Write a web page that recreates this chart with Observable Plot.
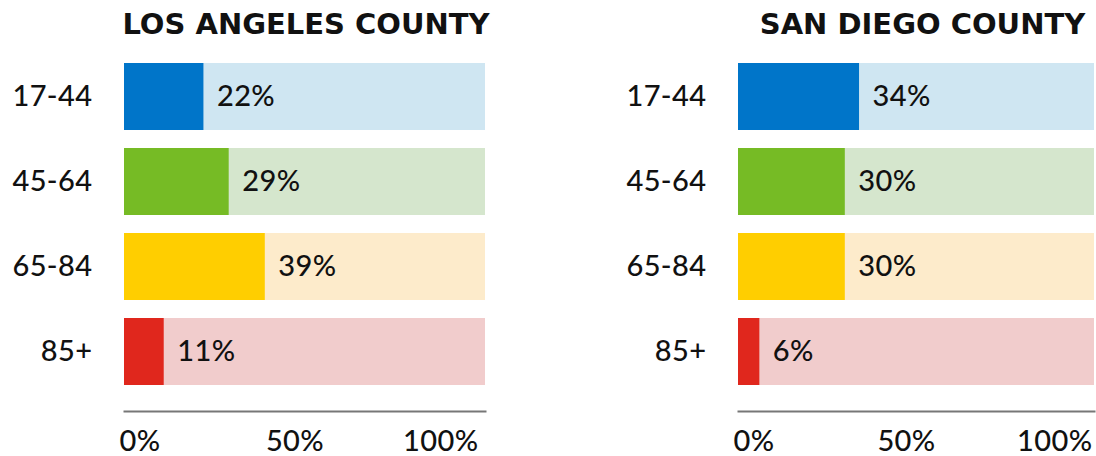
<!DOCTYPE html>
<html>
<head>
<meta charset="utf-8">
<script src="https://cdn.jsdelivr.net/npm/d3@7"></script>
<script src="https://cdn.jsdelivr.net/npm/@observablehq/plot@0.6"></script>
<style>
  html, body { margin: 0; padding: 0; background: #fff; }
  #wrap { display: flex; flex-direction: row; width: 1096px; height: 456px; }
  svg { font-family: Lato, "Noto Sans", sans-serif; }
  g[font-weight="900"] text { font-family: "DejaVu Sans", sans-serif; }
  g[font-weight="500"] text { letter-spacing: 0.4px; }
</style>
</head>
<body>
<div id="wrap"></div>
<script>
// ---- data ----
const ages = ["17-44", "45-64", "65-84", "85+"];
const counties = ["LOS ANGELES COUNTY", "SAN DIEGO COUNTY"];
const laValues = [22, 29, 39, 11];
const sdValues = [34, 30, 30, 6];
const ticks = [0, 50, 100];
const full = 100;

// ---- palette (styles) ----
const darkColors = ["#0075C9", "#76BB25", "#FFCE00", "#E0271D"];
const lightColors = ["#CFE6F2", "#D5E6CD", "#FDEBCB", "#F1CCCC"];

function panel(title, values, cfg) {
  const rows = ages.map((age, i) => ({age, value: values[i], dark: darkColors[i], light: lightColors[i]}));
  const tickRows = ticks.map(t => ({t}));
  const fs = 29;
  return Plot.plot({
    width: 548,
    height: 456,
    marginLeft: cfg.marginLeft,
    marginRight: cfg.marginRight,
    marginTop: 37,
    marginBottom: 45,
    x: {domain: [0, full], axis: null},
    y: {domain: ages, axis: null, paddingInner: 0.21, paddingOuter: 0.3},
    style: {fontFamily: "Lato, 'Noto Sans', sans-serif", background: "#fff"},
    marks: [
      Plot.barX(rows, {y: "age", x1: 0, x2: () => full, fill: "light"}),
      Plot.barX(rows, {y: "age", x1: 0, x2: "value", fill: "dark"}),
      Plot.text(rows, {y: "age", x: "value", text: d => d.value + "%", dx: 13, textAnchor: "start",
        lineAnchor: "middle", fontSize: fs, fontWeight: 500, fill: "#111"}),
      Plot.text(rows, {y: "age", frameAnchor: "left", text: "age", dx: -32, textAnchor: "end",
        lineAnchor: "middle", fontSize: fs, fontWeight: 500, fill: "#111"}),
      Plot.text([title], {frameAnchor: "top", text: d => d, dy: -4, dx: cfg.titleDx, lineAnchor: "bottom",
        fontSize: 29, fontWeight: 900, fill: "#111"}),
      Plot.frame({anchor: "bottom", stroke: "#777", strokeWidth: 2}),
      Plot.text(tickRows.filter(d => d.t === 0), {x: "t", text: d => d.t + "%", frameAnchor: "bottom", dy: 39, dx: -5,
        lineAnchor: "bottom", textAnchor: "start", fontSize: fs, fontWeight: 500, fill: "#111"}),
      Plot.text(tickRows.filter(d => d.t > 0 && d.t < full), {x: "t", text: d => d.t + "%", frameAnchor: "bottom", dy: 39, dx: -10,
        lineAnchor: "bottom", textAnchor: "middle", fontSize: fs, fontWeight: 500, fill: "#111"}),
      Plot.text(tickRows.filter(d => d.t === full), {x: "t", text: d => d.t + "%", frameAnchor: "bottom", dy: 39, dx: cfg.endDx,
        lineAnchor: "bottom", textAnchor: "end", fontSize: fs, fontWeight: 500, fill: "#111"})
    ]
  });
}

const wrap = document.getElementById("wrap");
wrap.appendChild(panel(counties[0], laValues, {marginLeft: 124, marginRight: 63, titleDx: 1, endDx: -7}));
wrap.appendChild(panel(counties[1], sdValues, {marginLeft: 190, marginRight: 2, titleDx: 6, endDx: -2}));
</script>
</body>
</html>
